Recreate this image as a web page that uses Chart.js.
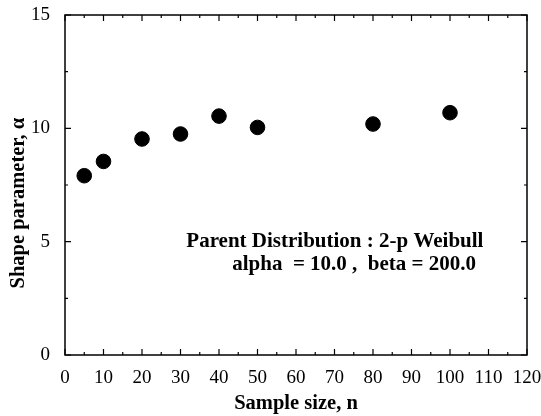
<!DOCTYPE html>
<html>
<head>
<meta charset="utf-8">
<script src="https://cdn.jsdelivr.net/npm/chart.js@4/dist/chart.umd.min.js"></script>
<style>
  html, body { margin: 0; padding: 0; background: #fff; }
  #wrap { width: 541px; height: 416px; }
</style>
</head>
<body>
<div id="wrap"><canvas id="chart"></canvas></div>
<script>
// data
const sampleSizes = [5, 10, 20, 30, 40, 50, 80, 100];
const shapeValues = [7.91, 8.54, 9.53, 9.75, 10.54, 10.04, 10.19, 10.69];
const noteLines = ['Parent Distribution : 2-p Weibull', 'alpha  = 10.0 ,  beta = 200.0'];
const yTitle = 'Shape parameter, α';
const xTitle = 'Sample size, n';

const serif = '"Liberation Serif", "Times New Roman", serif';

// frame + inward ticks on all four sides, y title and the note text
const framePlugin = {
  id: 'frame',
  afterDraw(chart) {
    const ctx = chart.ctx;
    const a = chart.chartArea;
    const xs = chart.scales.x;
    const ys = chart.scales.y;
    ctx.save();
    ctx.strokeStyle = '#000';
    ctx.lineWidth = 1.5;
    ctx.strokeRect(a.left, a.top, a.right - a.left, a.bottom - a.top);

    ctx.lineWidth = 1.2;
    ctx.beginPath();
    for (let v = xs.min; v <= xs.max; v += 5) {
      const px = xs.getPixelForValue(v);
      const len = v % 10 === 0 ? 6 : 3;
      ctx.moveTo(px, a.bottom); ctx.lineTo(px, a.bottom - len);
      ctx.moveTo(px, a.top); ctx.lineTo(px, a.top + len);
    }
    for (let v = ys.min; v <= ys.max; v += 2.5) {
      const py = ys.getPixelForValue(v);
      const len = v % 5 === 0 ? 6 : 3;
      ctx.moveTo(a.left, py); ctx.lineTo(a.left + len, py);
      ctx.moveTo(a.right, py); ctx.lineTo(a.right - len, py);
    }
    ctx.stroke();

    ctx.fillStyle = '#000';
    ctx.textAlign = 'center';
    ctx.textBaseline = 'middle';

    // y title sits a bit below the middle of the axis in the original
    ctx.save();
    ctx.font = 'bold 20.5px ' + serif;
    ctx.translate(19, ys.getPixelForValue(6.7));
    ctx.rotate(-Math.PI / 2);
    ctx.fillText(yTitle, 0, 0);
    ctx.restore();

    ctx.font = 'bold 21px ' + serif;
    ctx.fillText(noteLines[0], xs.getPixelForValue(70.1), ys.getPixelForValue(5));
    ctx.fillText(noteLines[1], xs.getPixelForValue(75.1), ys.getPixelForValue(3.97));
    ctx.restore();
  }
};

new Chart(document.getElementById('chart'), {
  type: 'scatter',
  data: {
    datasets: [{
      label: 'Shape parameter',
      data: sampleSizes.map((n, i) => ({ x: n, y: shapeValues[i] })),
      backgroundColor: '#000',
      borderColor: '#000',
      pointRadius: 7.3,
      pointHoverRadius: 7.3
    }]
  },
  options: {
    responsive: true,
    maintainAspectRatio: false,
    animation: false,
    layout: { padding: { top: 15, right: 14, left: 0, bottom: 0 } },
    plugins: {
      legend: { display: false },
      tooltip: { enabled: false }
    },
    scales: {
      x: {
        type: 'linear',
        min: 0,
        max: 120,
        grid: { display: false },
        border: { display: false },
        ticks: {
          stepSize: 10,
          padding: 4,
          color: '#000',
          font: { family: serif, size: 19 },
          maxRotation: 0,
          autoSkip: false
        },
        title: {
          display: true,
          text: xTitle,
          color: '#000',
          font: { family: serif, size: 20.5, weight: 'bold' },
          padding: { top: 0, bottom: 0 }
        },
        afterFit(scale) {
          scale.height = 61;
          // keep the end labels from pushing the plot area in
          scale.paddingLeft = 0;
          scale.paddingRight = 0;
        }
      },
      y: {
        min: 0,
        max: 15,
        grid: { display: false },
        border: { display: false },
        ticks: {
          stepSize: 5,
          padding: 7,
          color: '#000',
          font: { family: serif, size: 19 }
        },
        afterFit(scale) {
          scale.width = 65;
          scale.paddingTop = 0;
          scale.paddingBottom = 0;
        }
      }
    }
  },
  plugins: [framePlugin]
});
</script>
</body>
</html>
